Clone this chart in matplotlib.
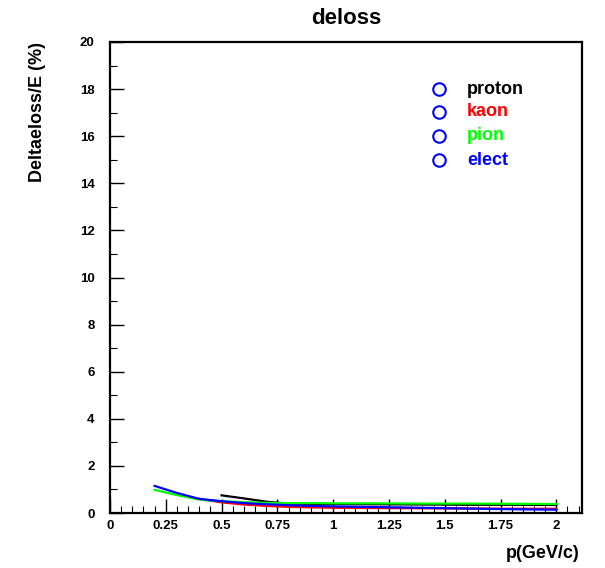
import matplotlib
matplotlib.use("Agg")
import matplotlib.pyplot as plt
from matplotlib.ticker import MultipleLocator
from matplotlib.lines import Line2D

plt.rcParams['font.family'] = ['Liberation Sans', 'DejaVu Sans']

title = "deloss"
xlabel = "p(GeV/c)"
ylabel = "Deltaeloss/E (%)"

series_names = ["proton", "kaon", "pion", "elect"]
series_colors = ["black", "red", "#00ff00", "blue"]

x_elect = [0.2, 0.3, 0.4, 0.5, 0.6, 0.7, 0.8, 0.9, 1.0, 1.2, 1.4, 1.6, 1.8, 2.0]
y_elect = [1.15, 0.85, 0.60, 0.50, 0.42, 0.37, 0.33, 0.30, 0.28, 0.25, 0.22, 0.19, 0.16, 0.14]

x_pion = [0.2, 0.3, 0.4, 0.5, 0.6, 0.7, 0.8, 0.9, 1.0, 1.2, 1.4, 1.6, 1.8, 2.0]
y_pion = [0.98, 0.76, 0.57, 0.50, 0.46, 0.43, 0.42, 0.42, 0.41, 0.41, 0.40, 0.40, 0.39, 0.38]

x_kaon = [0.4, 0.5, 0.6, 0.7, 0.8, 0.9, 1.0, 1.2, 1.4, 1.6, 1.8, 2.0]
y_kaon = [0.60, 0.45, 0.36, 0.30, 0.26, 0.24, 0.22, 0.21, 0.20, 0.19, 0.18, 0.18]

x_proton = [0.5, 0.6, 0.7, 0.8, 0.9, 1.0, 1.2, 1.4, 1.6, 1.8, 2.0]
y_proton = [0.75, 0.62, 0.48, 0.40, 0.39, 0.38, 0.37, 0.36, 0.35, 0.35, 0.34]

xticks = [0, 0.25, 0.5, 0.75, 1, 1.25, 1.5, 1.75, 2]
xticklabels = ["0", "0.25", "0.5", "0.75", "1", "1.25", "1.5", "1.75", "2"]
yticks = [0, 2, 4, 6, 8, 10, 12, 14, 16, 18, 20]

fig = plt.figure(figsize=(6.05, 5.68), dpi=100)
ax = fig.add_axes([110/605, 1-513/568, (582-110)/605, (513-42)/568])

data = [(x_proton, y_proton), (x_kaon, y_kaon), (x_pion, y_pion), (x_elect, y_elect)]
for (xs, ys), c in zip(data, series_colors):
    ax.plot(xs, ys, color=c, lw=1.6, solid_joinstyle='round')

ax.set_xlim(0, 2.115)
ax.set_ylim(0, 20)
ax.set_xticks(xticks)
ax.set_xticklabels(xticklabels)
ax.set_yticks(yticks)
ax.xaxis.set_minor_locator(MultipleLocator(0.05))
ax.yaxis.set_minor_locator(MultipleLocator(1))
ax.tick_params(axis='both', which='both', direction='in', top=False, right=False)
ax.tick_params(axis='both', which='major', length=10, width=1, labelsize=9.5)
ax.tick_params(axis='both', which='minor', length=5, width=0.8)
ax.tick_params(axis='y', which='major', pad=11)
ax.tick_params(axis='x', which='major', pad=5)
for lab in ax.get_xticklabels() + ax.get_yticklabels():
    lab.set_fontweight('bold')
for s in ax.spines.values():
    s.set_linewidth(1.6)

fig.text(346/605, 1-18/568, title, ha='center', va='center', fontsize=16, fontweight='bold')
fig.text(580/605, 1-554/568, xlabel, ha='right', va='center', fontsize=13, fontweight='bold')
fig.text(38/605, 1-42/568, ylabel, ha='center', va='top', rotation=90, fontsize=13, fontweight='bold')

leg_y = [89, 112, 136, 160]
for name, c, py in zip(series_names, series_colors, leg_y):
    fig.add_artist(Line2D([439/605], [1-py/568], marker='o', markersize=9, markerfacecolor='none',
                          markeredgecolor='blue', markeredgewidth=1.5, transform=fig.transFigure, linestyle='none'))
    fig.text(467/605, 1-py/568, name, ha='left', va='center', fontsize=13, fontweight='bold', color=c)

fig.savefig("out.png", dpi=100)
